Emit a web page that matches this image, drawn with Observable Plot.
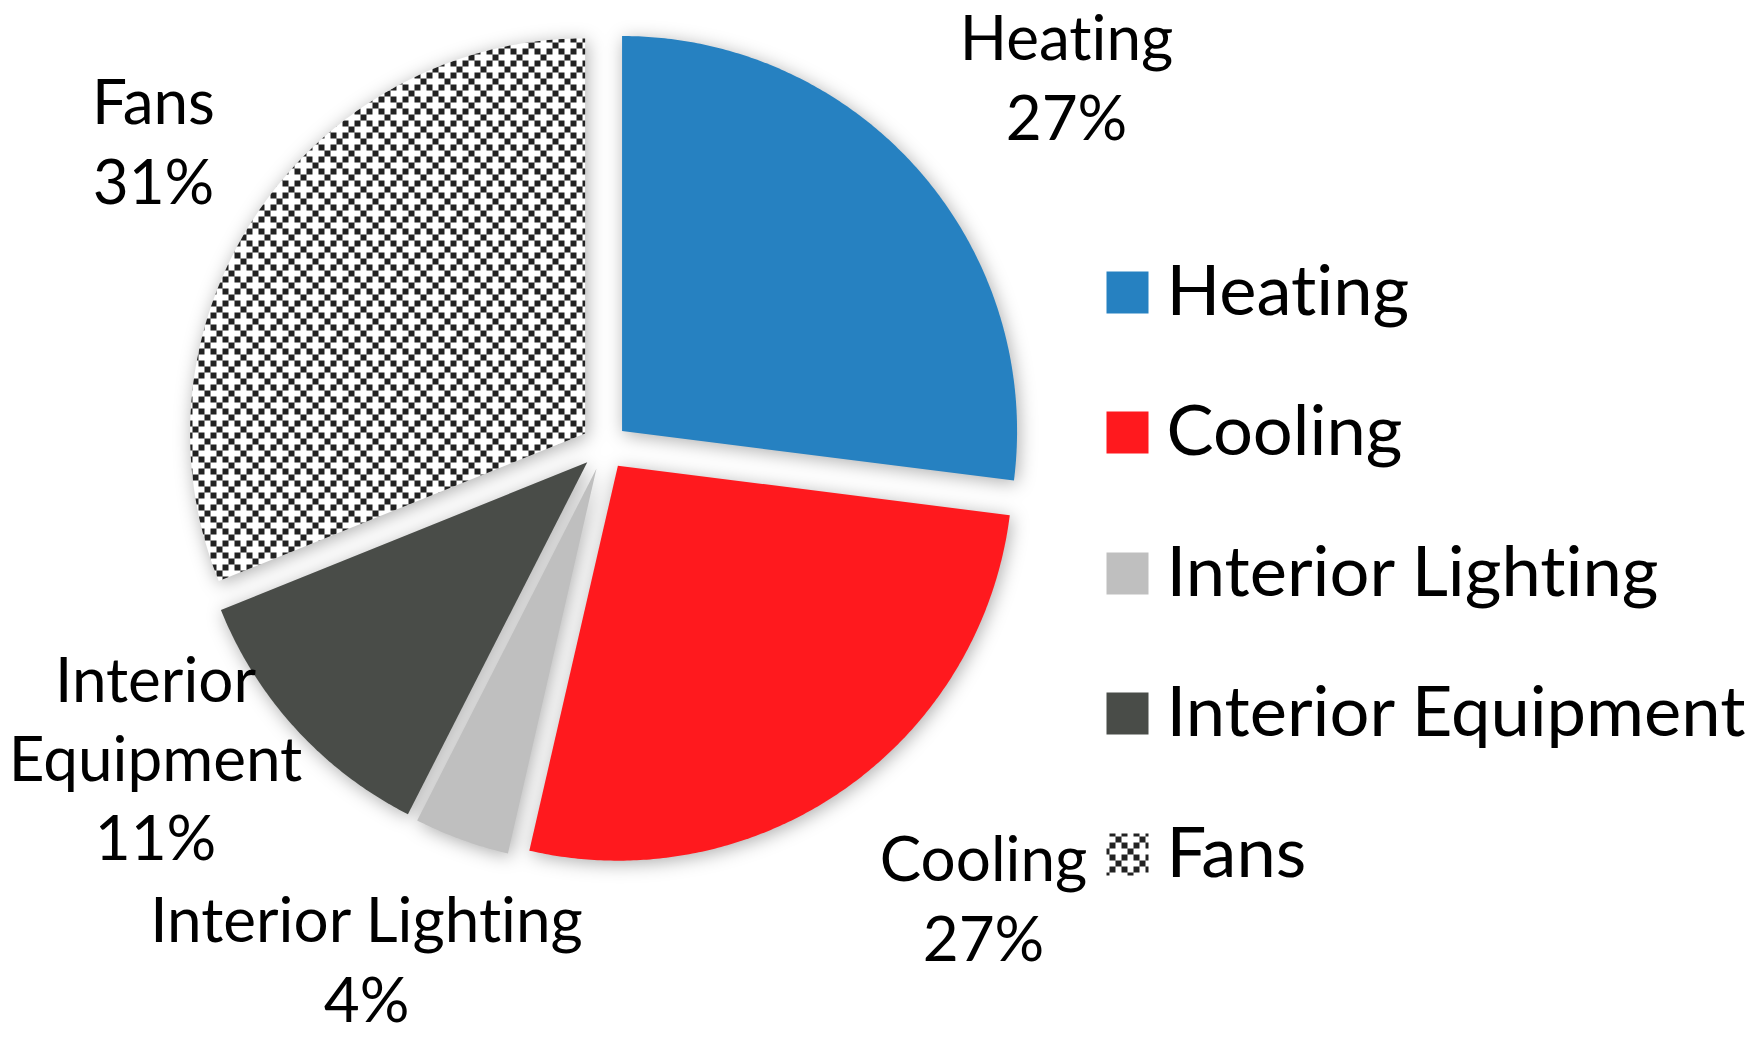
<!DOCTYPE html>
<html>
<head>
<meta charset="utf-8">
<script src="https://cdn.jsdelivr.net/npm/d3@7"></script>
<script src="https://cdn.jsdelivr.net/npm/@observablehq/plot@0.6"></script>
<style>
  html, body { margin: 0; padding: 0; background: #ffffff; }
  #chart svg { display: block; }
  #chart svg text { font-variant-ligatures: none; font-feature-settings: "liga" 0, "clig" 0, "dlig" 0; }
</style>
</head>
<body>
<div id="chart"></div>
<script>
// ---- data ----
const categories = ["Heating", "Cooling", "Interior Lighting", "Interior Equipment", "Fans"];
const shares = [27.0, 26.6, 3.9, 11.4, 31.1];            // percent of total
const labelNames = ["Heating", "Cooling", "Interior Lighting", "Interior\nEquipment", "Fans"];
const colors = ["#2681C1", "#FF191E", "#BFBFBF", "#494C48", "url(#fans-pattern)"];

// ---- layout ----
const W = 1760, H = 1040;
const cx = 604, cy = 446, R = 395;           // pie centre and radius (px)
const explode = 23.4 / R;                    // radial offset of each slice
const labelPx = [[1066, 74], [983, 895], [366, 956], [155, 755], [153, 138]];
const legendSquareX = 1127, legendTextX = 1166;
const legendRowY = [292, 432, 573, 713, 854];
const ux = px => (px - cx) / R;
const uy = py => (py - cy) / R;

// slice outlines from cumulative shares (angle clockwise from 12 o'clock)
const total = d3.sum(shares);
const polys = [];
let acc = 0;
categories.forEach((cat, i) => {
  const a0 = acc / total * 2 * Math.PI;
  acc += shares[i];
  const a1 = acc / total * 2 * Math.PI;
  const mid = (a0 + a1) / 2;
  const ox = explode * Math.sin(mid), oy = -explode * Math.cos(mid);
  polys.push({cat, x: ox, y: oy});
  const n = Math.max(8, Math.ceil((a1 - a0) * 120));
  for (let k = 0; k <= n; ++k) {
    const a = a0 + (a1 - a0) * k / n;
    polys.push({cat, x: ox + Math.sin(a), y: oy - Math.cos(a)});
  }
});

const labels = categories.map((cat, i) => ({
  cat,
  text: `${labelNames[i]}\n${Math.round(shares[i])}%`,
  x: ux(labelPx[i][0]),
  y: uy(labelPx[i][1])
}));

const legend = categories.map((cat, i) => ({cat, y: uy(legendRowY[i])}));

// pattern definition for the "Fans" slice
const defs = () => {
  const ns = "http://www.w3.org/2000/svg";
  const d = document.createElementNS(ns, "defs");
  d.innerHTML =
    `<pattern id="fans-pattern" patternUnits="userSpaceOnUse" width="24" height="24">
       <rect width="24" height="24" fill="#ffffff"/>
       <g fill="#222222">
         <rect x="6" y="0" width="6" height="6"/>
         <rect x="18" y="0" width="6" height="6"/>
         <rect x="12" y="6" width="6" height="6"/>
         <rect x="6" y="12" width="6" height="6"/>
         <rect x="18" y="12" width="6" height="6"/>
         <rect x="0" y="18" width="6" height="6"/>
       </g>
     </pattern>`;
  return d;
};

const chart = Plot.plot({
  width: W,
  height: H,
  margin: 0,
  x: {domain: [-1, 1], range: [cx - R, cx + R], axis: null},
  y: {domain: [-1, 1], range: [cy - R, cy + R], axis: null},
  color: {domain: categories, range: colors},
  style: {fontFamily: "Lato, 'Open Sans', sans-serif", background: "#ffffff", color: "#000000"},
  marks: [
    defs,
    Plot.line(polys, {x: "x", y: "y", z: "cat", fill: "cat", stroke: "none", curve: "linear-closed"}),
    Plot.text(labels, {x: "x", y: "y", text: "text", fontSize: 62, lineHeight: 1.28,
                       textAnchor: "middle", fill: "#000000"}),
    Plot.dot(legend, {x: ux(legendSquareX), y: "y", symbol: "square", r: 42 / Math.sqrt(Math.PI),
                      fill: "cat", stroke: "none"}),
    Plot.text(legend, {x: ux(legendTextX), y: "y", text: "cat", fontSize: 70.5,
                       textAnchor: "start", fill: "#000000"})
  ]
});

chart.querySelectorAll('g[aria-label="line"]').forEach(g => {
  g.style.filter = "drop-shadow(2px 3px 9px rgba(0,0,0,0.32))";
});

document.getElementById("chart").appendChild(chart);
</script>
</body>
</html>
